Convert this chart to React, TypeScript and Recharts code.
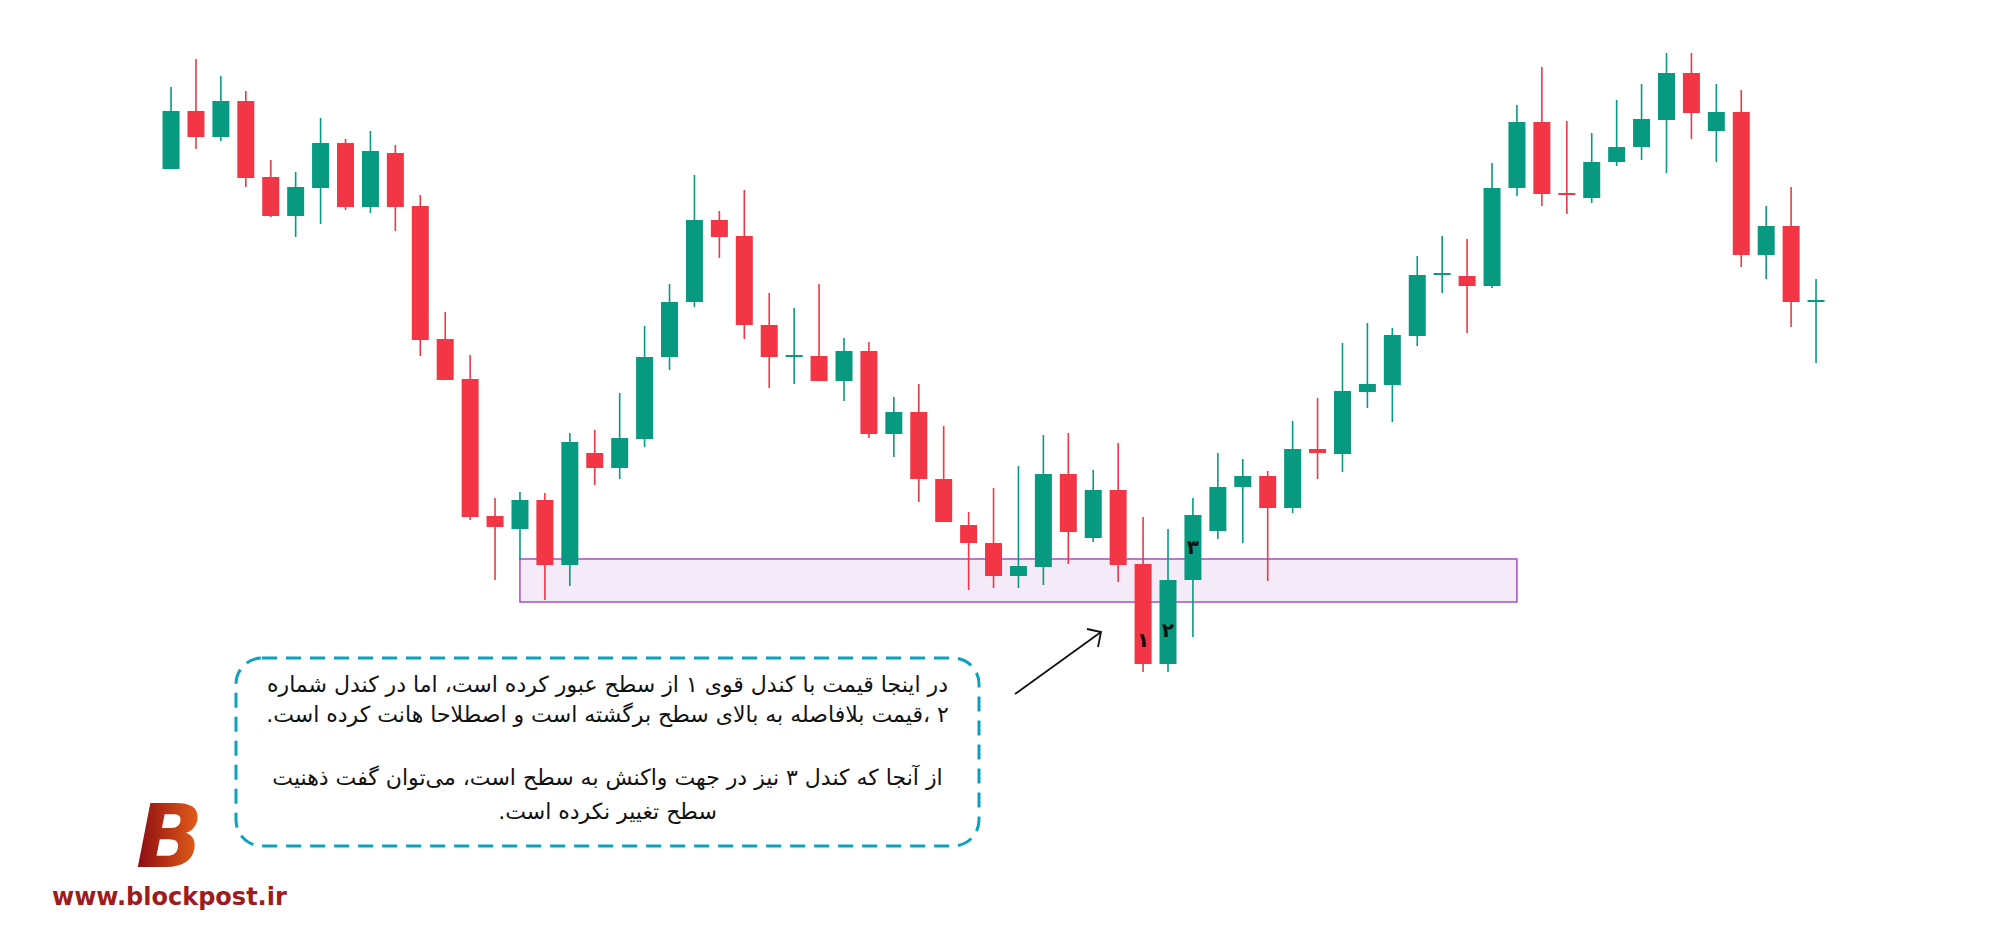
import React from "react";
import {
  ComposedChart,
  Bar,
  XAxis,
  YAxis,
  ReferenceArea,
  ReferenceDot,
} from "recharts";

// OHLC values (arbitrary price units)
const opens = [
  831, 889, 863, 899, 823, 784, 812, 857, 793, 847, 794, 661, 621, 484, 471, 500, 435, 547, 532, 561,
  643, 698, 780, 764, 675, 643, 644, 619, 649, 566, 588, 521, 475, 457, 424, 433, 526, 462, 510, 436,
  336, 420, 469, 513, 524, 492, 551, 546, 608, 615, 664, 725, 724, 714, 812, 878, 806, 802, 838, 853,
  880, 927, 869, 888, 745, 774, 698,
];
const highs = [
  913, 941, 924, 909, 840, 828, 882, 861, 869, 855, 805, 688, 645, 502, 508, 507, 567, 570, 607, 674,
  716, 825, 789, 810, 707, 692, 716, 662, 658, 603, 616, 574, 488, 512, 534, 565, 567, 530, 557, 483,
  471, 502, 547, 541, 529, 579, 602, 657, 677, 672, 744, 764, 761, 837, 895, 933, 879, 867, 900, 916,
  947, 947, 916, 910, 794, 813, 721,
];
const lows = [
  831, 851, 859, 813, 783, 763, 776, 790, 787, 769, 644, 620, 480, 420, 440, 400, 414, 515, 521, 553,
  630, 693, 742, 661, 612, 616, 619, 599, 562, 543, 498, 478, 410, 412, 412, 415, 436, 458, 418, 328,
  328, 363, 461, 457, 419, 487, 521, 528, 592, 578, 654, 707, 667, 712, 804, 794, 786, 797, 834, 840,
  827, 861, 838, 733, 721, 673, 637,
];
const closes = [
  889, 863, 899, 822, 784, 813, 857, 793, 849, 793, 660, 620, 483, 473, 500, 435, 558, 532, 562, 643,
  698, 780, 763, 675, 643, 644, 619, 649, 566, 588, 521, 478, 457, 424, 434, 526, 468, 510, 435, 336,
  420, 485, 513, 524, 492, 551, 547, 609, 616, 665, 725, 726, 714, 812, 878, 806, 805, 838, 853, 881,
  927, 887, 888, 745, 774, 698, 699,
];

// support zone (candle index range and price range)
const zoneFrom = 14;
const zoneTo = 54;
const zoneLow = 398;
const zoneHigh = 441;

// numbered candles
const markIndex = [39, 40, 41];
const markValue = [360, 370, 453];
const markText = ["۱", "۲", "۳"];

const noteLines = [
  "در اینجا قیمت با کندل قوی ۱ از سطح عبور کرده است، اما در کندل شماره",
  "۲ ،قیمت بلافاصله به بالای سطح برگشته است و اصطلاحا هانت کرده است.",
  "",
  "از آنجا که کندل ۳ نیز در جهت واکنش به سطح است، می‌توان گفت ذهنیت",
  "سطح تغییر نکرده است.",
];
const noteTops = [669, 699, 731, 762, 796];

const UP = "#089981";
const DOWN = "#f23645";

const data = opens.map((o, i) => ({
  i,
  open: o,
  high: highs[i],
  low: lows[i],
  close: closes[i],
}));

const Candle = (props: any) => {
  const { x, y, width, height, payload } = props;
  const { open, close, high, low } = payload;
  const up = close >= open;
  const color = up ? UP : DOWN;
  const ratio = height / Math.max(high - low, 1);
  const top = y + (high - Math.max(open, close)) * ratio;
  let bodyH = Math.abs(open - close) * ratio;
  let bodyY = top;
  if (bodyH < 2) {
    bodyY = top - 1;
    bodyH = 2;
  }
  const cx = x + width / 2;
  return (
    <g>
      <line x1={cx} x2={cx} y1={y} y2={y + height} stroke={color} strokeWidth={1.6} />
      <rect x={x} y={bodyY} width={width} height={bodyH} fill={color} />
    </g>
  );
};

const Digit = (text: string) => (props: any) => (
  <text
    x={props.cx}
    y={props.cy}
    textAnchor="middle"
    dominantBaseline="central"
    fontFamily="DejaVu Sans"
    fontWeight="bold"
    fontSize={20}
    fill="#111"
  >
    {text}
  </text>
);

export default function App() {
  return (
    <div
      style={{
        position: "absolute",
        left: 0,
        top: 0,
        width: 2000,
        height: 938,
        background: "#fff",
        overflow: "hidden",
      }}
    >
      <ComposedChart
        width={2000}
        height={938}
        data={data}
        margin={{ top: 0, right: 184, left: 171, bottom: 0 }}
      >
        <XAxis type="number" dataKey="i" domain={[0, 66]} hide />
        <YAxis type="number" domain={[62, 1000]} hide />
        <ReferenceArea
          x1={zoneFrom}
          x2={zoneTo}
          y1={zoneLow}
          y2={zoneHigh}
          fill="#a855c7"
          fillOpacity={0.12}
          stroke="#a64dc4"
          strokeWidth={1.5}
        />
        <Bar
          dataKey={(d: any) => [d.low, d.high]}
          barSize={17}
          shape={<Candle />}
          isAnimationActive={false}
        />
        {markIndex.map((idx, k) => (
          <ReferenceDot
            key={k}
            x={idx}
            y={markValue[k]}
            r={0}
            shape={Digit(markText[k])}
          />
        ))}
      </ComposedChart>

      <svg
        width={2000}
        height={938}
        style={{ position: "absolute", left: 0, top: 0, pointerEvents: "none" }}
      >
        <defs>
          <linearGradient id="logoGrad" x1="0" y1="0" x2="1" y2="0">
            <stop offset="0%" stopColor="#8a0a12" />
            <stop offset="100%" stopColor="#ea6419" />
          </linearGradient>
        </defs>
        <rect
          x={236}
          y={658}
          width={743}
          height={188}
          rx={26}
          fill="none"
          stroke="#0aa2bf"
          strokeWidth={3}
          strokeDasharray="15 9"
        />
        <line x1={1015} y1={694} x2={1101} y2={632} stroke="#111" strokeWidth={1.8} />
        <path d="M1087,629 L1101,632 L1098,647" fill="none" stroke="#111" strokeWidth={1.8} />
        <text
          x={136}
          y={867}
          fontFamily="DejaVu Sans"
          fontWeight="bold"
          fontStyle="italic"
          fontSize={88}
          fill="url(#logoGrad)"
        >
          B
        </text>
        <text
          x={52}
          y={905}
          fontFamily="DejaVu Sans"
          fontWeight="bold"
          fontSize={24}
          fill="#9e1c1c"
        >
          www.blockpost.ir
        </text>
      </svg>

      {noteLines.map((t, k) => (
        <div
          key={k}
          dir="rtl"
          style={{
            position: "absolute",
            left: 236,
            width: 743,
            top: noteTops[k],
            lineHeight: "32px",
            textAlign: "center",
            fontFamily: "DejaVu Sans",
            fontSize: 22,
            color: "#111",
            whiteSpace: "nowrap",
          }}
        >
          {t}
        </div>
      ))}
    </div>
  );
}
